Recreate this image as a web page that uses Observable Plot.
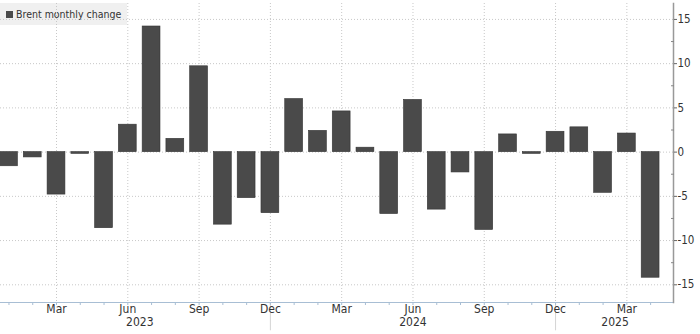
<!DOCTYPE html>
<html><head><meta charset="utf-8">
<script src="https://cdn.jsdelivr.net/npm/d3@7"></script>
<script src="https://cdn.jsdelivr.net/npm/@observablehq/plot@0.6"></script>
<style>
body{margin:0;background:#fff;}
#wrap{position:relative;width:700px;height:334px;font-family:"DejaVu Sans Condensed","Liberation Sans",sans-serif;}
#legend{position:absolute;left:0;top:3px;width:127px;height:22px;background:#f0f0f0;font-size:10.5px;color:#333;display:flex;align-items:center;z-index:0;}
#legend .sw{display:inline-block;width:7px;height:7px;background:#4a4a4a;margin-left:6px;margin-right:3px;}
#chart{position:absolute;left:0;top:0;z-index:1;}
</style></head><body>
<div id="wrap"><div id="legend"><span class="sw"></span><span>Brent monthly change</span></div><div id="chart"></div></div>
<script>
const months = ["2023-01","2023-02","2023-03","2023-04","2023-05","2023-06","2023-07","2023-08","2023-09","2023-10","2023-11","2023-12",
  "2024-01","2024-02","2024-03","2024-04","2024-05","2024-06","2024-07","2024-08","2024-09","2024-10","2024-11","2024-12",
  "2025-01","2025-02","2025-03","2025-04"];
const changes = [-1.6,-0.6,-4.8,-0.2,-8.6,3.1,14.2,1.5,9.7,-8.2,-5.2,-6.9,
  6.0,2.4,4.6,0.5,-7.0,5.9,-6.5,-2.3,-8.8,2.0,-0.2,2.3,
  2.8,-4.6,2.1,-14.2];
const labeledMonths = ["2023-03","2023-06","2023-09","2023-12","2024-03","2024-06","2024-09","2024-12","2025-03"];
const monthNames = {"03":"Mar","06":"Jun","09":"Sep","12":"Dec"};
const yearSeparators = ["2023-12","2024-12"];
const yTicks = [-15,-10,-5,0,5,10,15];
const yMinorTicks = [-12.5,-7.5,-2.5,2.5,7.5,12.5];
const yearLabelsMid = [{month:"2023-06", label:"2023"},{month:"2025-02", label:"2025"}];
const yearLabelsOn = [{month:"2024-06", label:"2024"}];

const data = months.map((m,i)=>({month:m, value:changes[i]}));

const chart = Plot.plot({
  width:700, height:334,
  marginTop:3, marginBottom:32, marginLeft:0, marginRight:27,
  style:{background:"transparent", fontFamily:'"DejaVu Sans Condensed","Liberation Sans",sans-serif', fontSize:"11.5px", color:"#333"},
  x:{type:"band", domain:months, range:[-3.4,662], paddingInner:0.25, paddingOuter:0.125, round:false, label:null},
  y:{domain:[-17,16.8], label:null},
  marks:[
    Plot.gridY({ticks:yTicks, stroke:"#c8c8c8", strokeOpacity:1, strokeDasharray:"1,2"}),
    Plot.gridX(labeledMonths, {stroke:"#c8c8c8", strokeOpacity:1, strokeDasharray:"1,2"}),
    Plot.ruleX(yearSeparators, {y1:-17, y2:-20.2, stroke:"#d4d4d4"}),
    Plot.barY(data, {x:"month", y:"value", fill:"#4a4a4a", stroke:"#333", strokeWidth:0.6}),
    Plot.frame({anchor:"bottom", stroke:"#a8bed4"}),
    Plot.frame({anchor:"right", stroke:"#999", strokeWidth:1.5}),
    Plot.axisX(months, {tickSize:3, stroke:"#a8bed4", tickFormat:()=>"", label:null}),
    Plot.axisX(labeledMonths, {tickSize:0, tickPadding:2, fill:"#333", fontSize:12, tickFormat:d=>monthNames[d.slice(5)], label:null}),
    Plot.axisY(yTicks, {anchor:"right", tickSize:3, tickPadding:1, stroke:"#666", fill:"#333", fontSize:11.5, tickFormat:d=>String(d), label:null}),
    Plot.axisY(yMinorTicks, {anchor:"right", tickSize:-3, stroke:"#888", tickFormat:()=>"", label:null}),
    Plot.text(yearLabelsMid, {x:"month", text:"label", frameAnchor:"bottom", lineAnchor:"top", dy:15, dx:12, fontSize:12, fill:"#333"}),
    Plot.text(yearLabelsOn, {x:"month", text:"label", frameAnchor:"bottom", lineAnchor:"top", dy:15, fontSize:12, fill:"#333"})
  ]
});
document.getElementById("chart").appendChild(chart);
</script>
</body></html>
